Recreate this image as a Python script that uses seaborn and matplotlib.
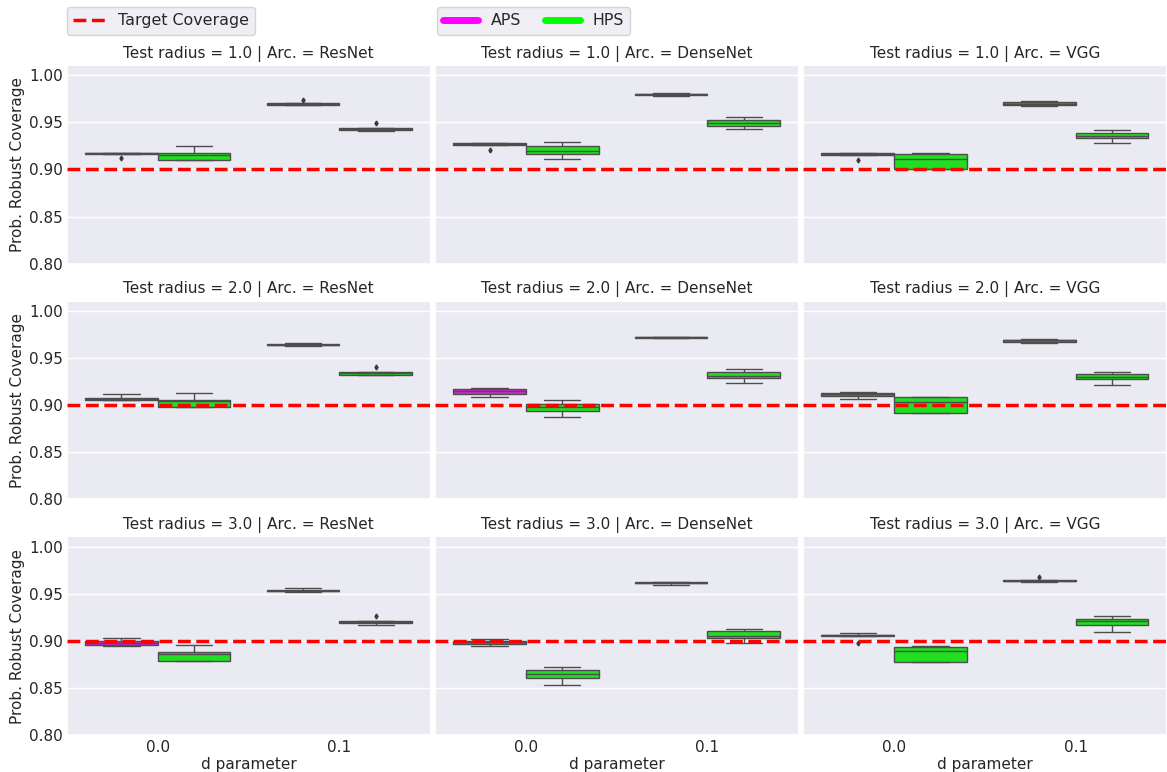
import numpy as np
import pandas as pd
import seaborn as sns
import matplotlib.pyplot as plt
from matplotlib.lines import Line2D

# Facet levels
radii = [1.0, 2.0, 3.0]
archs = ["ResNet", "DenseNet", "VGG"]
d_values = [0.0, 0.1]
methods = ["APS", "HPS"]

# Coverage over repeated runs; each entry: (arch, d) in order
# ResNet d=0.0, ResNet d=0.1, DenseNet d=0.0, DenseNet d=0.1, VGG d=0.0, VGG d=0.1
aps_r1 = [
    [0.912, 0.916, 0.917, 0.918, 0.918],
    [0.969, 0.969, 0.970, 0.9705, 0.9734],
    [0.921, 0.9265, 0.927, 0.928, 0.9285],
    [0.9777, 0.979, 0.980, 0.9805, 0.981],
    [0.910, 0.9155, 0.916, 0.917, 0.9175],
    [0.968, 0.9688, 0.970, 0.9715, 0.9725],
]
hps_r1 = [
    [0.910, 0.9103, 0.915, 0.9172, 0.9248],
    [0.9413, 0.9425, 0.943, 0.944, 0.9497],
    [0.911, 0.9165, 0.920, 0.925, 0.9295],
    [0.9433, 0.9467, 0.949, 0.9527, 0.956],
    [0.900, 0.901, 0.911, 0.9165, 0.9175],
    [0.9277, 0.9335, 0.936, 0.9393, 0.9422],
]
aps_r2 = [
    [0.905, 0.9055, 0.907, 0.908, 0.9117],
    [0.963, 0.9635, 0.964, 0.965, 0.9666],
    [0.9085, 0.912, 0.915, 0.9168, 0.918],
    [0.971, 0.9718, 0.9725, 0.9728, 0.973],
    [0.9067, 0.9097, 0.912, 0.913, 0.9138],
    [0.966, 0.9675, 0.969, 0.9695, 0.970],
]
hps_r2 = [
    [0.898, 0.8985, 0.9045, 0.906, 0.913],
    [0.932, 0.9325, 0.934, 0.935, 0.9407],
    [0.8872, 0.8937, 0.898, 0.901, 0.9056],
    [0.924, 0.9285, 0.931, 0.935, 0.9383],
    [0.892, 0.8921, 0.903, 0.9088, 0.909],
    [0.9213, 0.928, 0.930, 0.9333, 0.9357],
]
aps_r3 = [
    [0.895, 0.8955, 0.8975, 0.900, 0.9028],
    [0.952, 0.9525, 0.953, 0.954, 0.956],
    [0.8944, 0.8972, 0.899, 0.900, 0.9018],
    [0.959, 0.961, 0.962, 0.9625, 0.963],
    [0.898, 0.905, 0.906, 0.9065, 0.908],
    [0.963, 0.9632, 0.964, 0.9648, 0.9681],
]
hps_r3 = [
    [0.8784, 0.879, 0.886, 0.888, 0.8954],
    [0.917, 0.9185, 0.920, 0.921, 0.9266],
    [0.8529, 0.8603, 0.865, 0.869, 0.872],
    [0.8976, 0.903, 0.9055, 0.910, 0.9124],
    [0.8775, 0.878, 0.889, 0.8936, 0.895],
    [0.9093, 0.9165, 0.921, 0.9233, 0.9263],
]

target_coverage = 0.9
y_ticks = [0.80, 0.85, 0.90, 0.95, 1.00]
palette = {"APS": "#ff00ff", "HPS": "#00ff00"}

results = {
    (1.0, "APS"): aps_r1, (1.0, "HPS"): hps_r1,
    (2.0, "APS"): aps_r2, (2.0, "HPS"): hps_r2,
    (3.0, "APS"): aps_r3, (3.0, "HPS"): hps_r3,
}

rows = []
for (radius, method), groups in results.items():
    k = 0
    for arch in archs:
        for d in d_values:
            for v in groups[k]:
                rows.append({"Test radius": radius, "Arc.": arch,
                             "d parameter": d, "Method": method,
                             "Prob. Robust Coverage": v})
            k += 1
df = pd.DataFrame(rows)

sns.set_theme(style="darkgrid")
plt.rcParams.update({
    "font.size": 11, "axes.labelsize": 11, "axes.titlesize": 11.4,
    "xtick.labelsize": 11, "ytick.labelsize": 11, "legend.fontsize": 11.4,
    "xtick.major.size": 0, "ytick.major.size": 0,
    "xtick.major.pad": 4, "ytick.major.pad": 3,
})

g = sns.catplot(
    data=df, kind="box", x="d parameter", y="Prob. Robust Coverage",
    hue="Method", hue_order=methods, row="Test radius", col="Arc.",
    row_order=radii, col_order=archs, palette=palette,
    linewidth=1, legend=False, height=3, aspect=1.5,
    flierprops=dict(marker="d", markersize=2.5, markerfacecolor="#3a3a3a",
                    markeredgecolor="#3a3a3a"),
)
g.figure.set_size_inches(11.67, 7.72)
g.figure.subplots_adjust(left=0.0574, right=0.9995, top=0.9145, bottom=0.048,
                         wspace=0.0137, hspace=0.193)

for ax in g.axes.flat:
    ax.axhline(target_coverage, color="red", ls="--", lw=2.5, zorder=5)
    ax.set_ylim(0.80, 1.01)
    ax.set_yticks(y_ticks)
    ax.xaxis.labelpad = 1
    ax.yaxis.labelpad = 3

g.set_titles("Test radius = {row_name} | Arc. = {col_name}")

fig = g.figure
target_handle = [Line2D([0], [0], color="red", ls="--", lw=2.5)]
fig.legend(target_handle, ["Target Coverage"], loc="upper left",
           bbox_to_anchor=(0.0574, 0.991), borderaxespad=0, frameon=True)
method_handles = [Line2D([0], [0], color=palette[m], lw=5) for m in methods]
fig.legend(method_handles, methods, loc="upper left", ncol=2,
           bbox_to_anchor=(0.3745, 0.991), borderaxespad=0, frameon=True,
           handlelength=2.2, columnspacing=1.5)

fig.savefig("out.png", dpi=100)
